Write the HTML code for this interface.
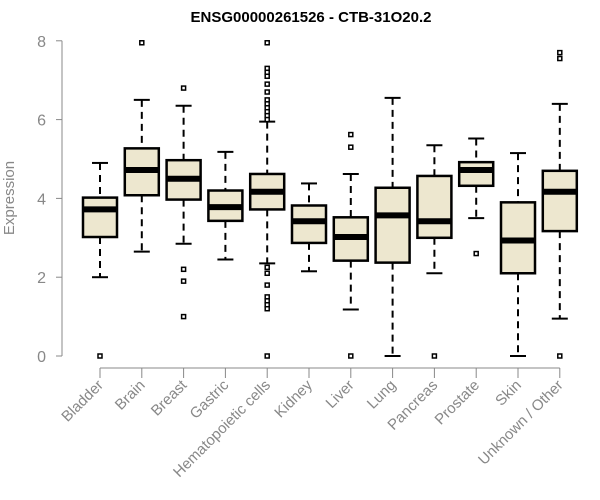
<!DOCTYPE html>
<html><head><meta charset="utf-8"><style>
body{margin:0;background:#fff}
svg{display:block;font-family:"Liberation Sans",Arial,sans-serif}
</style></head><body>
<svg id="chart" width="600" height="500">
<text x="311" y="22" text-anchor="middle" font-size="15" font-weight="bold">ENSG00000261526 - CTB-31O20.2</text>
<text transform="translate(14,198) rotate(-90)" text-anchor="middle" font-size="15" fill="#888">Expression</text>
<g id="yaxis"></g>
<g id="xaxis"></g>
<g id="boxes"></g>
</svg>
<script>
const categories=["Bladder","Brain","Breast","Gastric","Hematopoietic cells","Kidney","Liver","Lung","Pancreas","Prostate","Skin","Unknown / Other"];
const whiskerLow=[2.0,2.65,2.85,2.45,2.35,2.15,1.18,0,2.1,3.5,0,0.95];
const q1=[3.02,4.08,3.97,3.43,3.72,2.87,2.42,2.37,3.0,4.32,2.1,3.17];
const medians=[3.72,4.72,4.5,3.78,4.17,3.42,3.02,3.57,3.42,4.72,2.93,4.17];
const q3=[4.02,5.27,4.97,4.2,4.62,3.82,3.52,4.27,4.57,4.92,3.9,4.7];
const whiskerHigh=[4.9,6.5,6.35,5.18,5.95,4.38,4.62,6.55,5.35,5.52,5.15,6.4];
const outliers=[[0],[7.95],[6.8,2.2,1.9,1.0],[],[7.95,7.3,7.2,7.1,6.9,6.7,6.5,6.4,6.3,6.2,6.1,6.0,2.25,2.1,1.8,1.5,1.4,1.3,1.2,0],[],[5.62,5.3,0],[],[0],[2.6],[],[7.7,7.55,0]];
const yTicks=[0,2,4,6,8];
const NS="http://www.w3.org/2000/svg";
function y(v){return 356-v*39.4;}
function x(i){return 100+i*41.8;}
function mk(tag,attrs,parent){const e=document.createElementNS(NS,tag);for(const k in attrs)e.setAttribute(k,attrs[k]);parent.appendChild(e);return e;}
const ya=document.getElementById('yaxis'),xa=document.getElementById('xaxis'),bx=document.getElementById('boxes');
mk('line',{x1:62,x2:62,y1:y(0),y2:y(8),stroke:'#888'},ya);
yTicks.forEach(t=>{
  const l=mk('line',{x1:56,x2:62,y1:y(t),y2:y(t),stroke:'#888'},ya);
  
  
  const tx=mk('text',{x:46,y:y(t)+6,'text-anchor':'end','font-size':16,fill:'#888'},ya);
  tx.textContent=t;
  
  
});
mk('line',{x1:x(0),x2:x(categories.length-1),y1:368,y2:368,stroke:'#888'},xa);
categories.forEach((c,i)=>{
  const cx=x(i);
  const tk=mk('line',{x1:cx,x2:cx,y1:368,y2:378,stroke:'#888'},xa);
  
  
  const t=mk('text',{transform:`translate(${cx+4},${386}) rotate(-45)`,'text-anchor':'end','font-size':15,fill:'#888'},xa);
  t.textContent=c;
  
  
  const g=mk('g',{},bx);
  
  
  const w=17;
  mk('line',{x1:cx,x2:cx,y1:y(whiskerHigh[i]),y2:y(q3[i]),stroke:'#000','stroke-width':2,'stroke-dasharray':'7,5'},g);
  mk('line',{x1:cx,x2:cx,y1:y(q1[i]),y2:y(whiskerLow[i]),stroke:'#000','stroke-width':2,'stroke-dasharray':'7,5'},g);
  mk('line',{x1:cx-8,x2:cx+8,y1:y(whiskerHigh[i]),y2:y(whiskerHigh[i]),stroke:'#000','stroke-width':2},g);
  mk('line',{x1:cx-8,x2:cx+8,y1:y(whiskerLow[i]),y2:y(whiskerLow[i]),stroke:'#000','stroke-width':2},g);
  mk('rect',{x:cx-w,y:y(q3[i]),width:2*w,height:y(q1[i])-y(q3[i]),fill:'#ede7cf',stroke:'#000','stroke-width':2.5},g);
  mk('line',{x1:cx-w,x2:cx+w,y1:y(medians[i]),y2:y(medians[i]),stroke:'#000','stroke-width':6},g);
  outliers[i].forEach(o=>{
    const r=mk('rect',{x:cx-2,y:y(o)-2,width:4,height:4,fill:'#fff',stroke:'#000','stroke-width':1.5},g);
    
    
  });
});
</script>
</body></html>
